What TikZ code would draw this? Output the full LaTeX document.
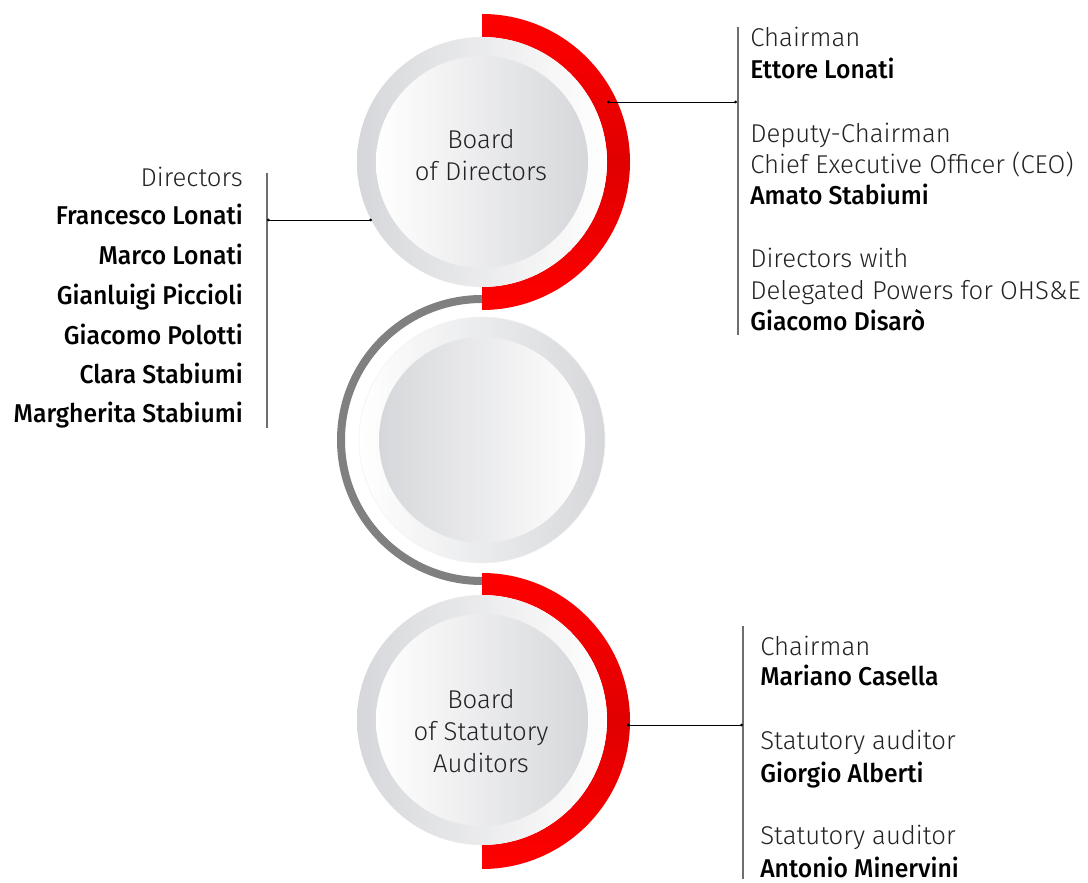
\documentclass[tikz,border=0pt]{standalone}
\usepackage{fontspec}
\setmainfont{Fira Sans}[UprightFont={* Light}, BoldFont={* Medium}, BoldFeatures={FakeStretch=0.96}]
\usetikzlibrary{arrows.meta}
\definecolor{ringred}{RGB}{255,0,0}
\definecolor{deepred}{RGB}{224,0,0}
\definecolor{discgray}{RGB}{214,215,218}
\definecolor{arcgray}{RGB}{128,128,128}
\definecolor{txtgray}{RGB}{35,35,35}
\definecolor{bargray}{RGB}{110,110,110}

\begin{document}
\begin{tikzpicture}[x = 0.75pt, y = 0.75pt,
   lbl/.style = {inner sep = 0pt, text = txtgray, font = \fontsize{19.3}{24}\selectfont},
   nm/.style = {lbl, text = black, font = \fontsize{19.3}{24}\selectfont\bfseries},
   ctr/.style = {lbl, align = center},
   redring/.style = {top color = ringred, bottom color = ringred, middle color = deepred},
   link/.style = {black, line width = 0.6pt, {Circle[length = 2pt]}-{Circle[length = 2pt]}},
   bar/.style = {bargray, line width = 0.9pt}]
   \useasboundingbox (0,0) rectangle (1088,882);

   \shade[redring] (482,868) arc (90:-90:148) -- (482,595) arc (-90:90:125) -- cycle;
   \shade[left color = discgray, right color = white] (482,720) circle (125);
   \shade[left color = white, right color = discgray] (482,720) circle (106);
   \node[ctr] (bod) at (481,727) {Board\\of Directors};

   \draw[arcgray, line width = 6pt] (482,583) arc (90:270:141);
   \shade[left color = white, right color = discgray, draw = gray!10] (482,442) circle (123);
   \shade[left color = discgray, right color = white] (482,442) circle (103);

   \shade[redring] (482,309) arc (90:-90:148) -- (482,37) arc (-90:90:125) -- cycle;
   \shade[left color = discgray, right color = white] (482,162) circle (125);
   \shade[left color = white, right color = discgray] (482,162) circle (106);
   \node[ctr] (bsa) at (481,151) {Board\\of Statutory\\Auditors};

   \draw[bar] (738,855) -- (738,547);
   \coordinate (bodr) at (607,780);
   \coordinate (bodrbar) at (737,780);
   \draw[link] (bodr) -- (bodrbar);
   \node[lbl, anchor = base west] (chair) at (750,835) {Chairman};
   \node[nm, anchor = base west] (ettore) at (750,803) {Ettore Lonati};
   \node[lbl, anchor = base west] (deputy) at (750,739) {Deputy-Chairman};
   \node[lbl, anchor = base west] (ceo) at (750,708) {Chief Executive Officer (CEO)};
   \node[nm, anchor = base west] (amato) at (750,677) {Amato Stabiumi};
   \node[lbl, anchor = base west] (dirwith) at (750,614) {Directors with};
   \node[lbl, anchor = base west] (ohse) at (750,582) {Delegated Powers for OHS\&E};
   \node[nm, anchor = base west] (disaro) at (750,551) {Giacomo Disarò};

   \draw[bar] (267,709) -- (267,454);
   \coordinate (bodlbar) at (267,662);
   \coordinate (bodl) at (372,662);
   \draw[link] (bodlbar) -- (bodl);
   \node[lbl, anchor = base east] (dirs) at (243,695) {Directors};
   \node[nm, anchor = base east] (francesco) at (243,657) {Francesco Lonati};
   \node[nm, anchor = base east] (marco) at (243,617) {Marco Lonati};
   \node[nm, anchor = base east] (gianluigi) at (243,577) {Gianluigi Piccioli};
   \node[nm, anchor = base east] (polotti) at (243,537) {Giacomo Polotti};
   \node[nm, anchor = base east] (clara) at (243,498) {Clara Stabiumi};
   \node[nm, anchor = base east] (margherita) at (243,459) {Margherita Stabiumi};

   \draw[bar] (743,256) -- (743,3);
   \coordinate (bsar) at (627,157);
   \coordinate (bsarbar) at (743,157);
   \draw[link] (bsar) -- (bsarbar);
   \node[lbl, anchor = base west] (chair2) at (760,227) {Chairman};
   \node[nm, anchor = base west] (casella) at (760,197) {Mariano Casella};
   \node[lbl, anchor = base west] (aud1) at (760,133) {Statutory auditor};
   \node[nm, anchor = base west] (alberti) at (760,100) {Giorgio Alberti};
   \node[lbl, anchor = base west] (aud2) at (760,38) {Statutory auditor};
   \node[nm, anchor = base west] (minervini) at (760,5) {Antonio Minervini};
\end{tikzpicture}
\end{document}
